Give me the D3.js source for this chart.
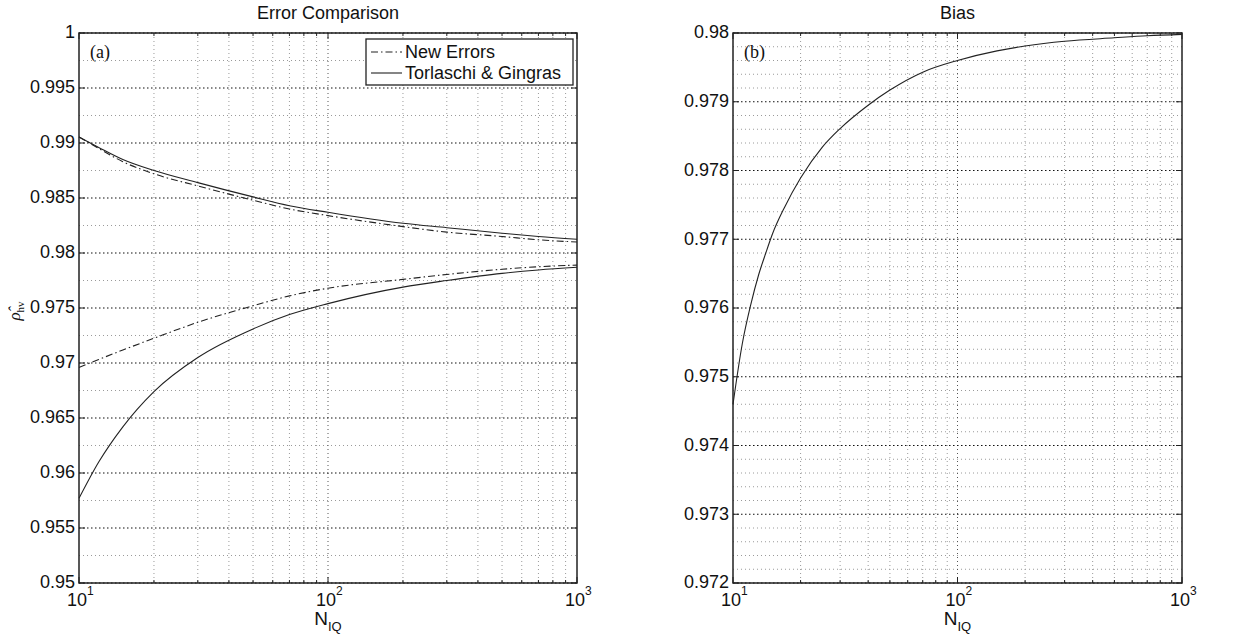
<html>
<head>
<script src="https://d3js.org/d3.v7.min.js"></script>
<style>
body { margin: 0; background: white; }
text { font-family: "Liberation Sans", Arial, sans-serif; fill: #111; }
.serif { font-family: "Liberation Serif", "DejaVu Serif", serif; }
</style>
</head>
<body>
<svg id="chart" width="1260" height="635"></svg>
<script>
// values
var nIQ = [10, 12, 15, 20, 30, 50, 70, 100, 200, 300, 500, 700, 1000];
var newUpper = [0.99055, 0.9895, 0.9883, 0.9872, 0.9861, 0.9848, 0.9840, 0.9834, 0.9824, 0.9819, 0.9815, 0.9812, 0.9810];
var newLower = [0.9696, 0.97032, 0.97118, 0.97225, 0.9737, 0.9752, 0.9761, 0.9768, 0.9776, 0.97805, 0.97852, 0.97875, 0.9789];
var tgUpper = [0.99055, 0.9896, 0.9885, 0.9875, 0.9864, 0.9851, 0.9843, 0.9837, 0.9827, 0.9823, 0.9818, 0.9815, 0.98125];
var tgLower = [0.9577, 0.9610, 0.9642, 0.9674, 0.9705, 0.9731, 0.9744, 0.9754, 0.9769, 0.9775, 0.97815, 0.97846, 0.9787];

var biasN = [10, 11, 12, 13, 14, 15, 17, 20, 25, 30, 40, 50, 70, 100, 150, 200, 300, 500, 700, 1000];
var biasRho = [0.9746, 0.97548, 0.97605, 0.97648, 0.9768, 0.97708, 0.97747, 0.97789, 0.97834, 0.97861, 0.97895, 0.97917, 0.97943, 0.9796, 0.97974, 0.97981, 0.97988, 0.97993, 0.97996, 0.97998];

var leftYTicks = [0.95, 0.955, 0.96, 0.965, 0.97, 0.975, 0.98, 0.985, 0.99, 0.995, 1];
var rightYTicks = [0.972, 0.973, 0.974, 0.975, 0.976, 0.977, 0.978, 0.979, 0.98];
var xTicks = [10, 100, 1000];
var xTickExp = ["1", "2", "3"];
var legendLabels = ["New Errors", "Torlaschi & Gingras"];

var svg = d3.select("#chart");
svg.append("rect").attr("width", 1260).attr("height", 635).attr("fill", "white");

var dashDot = "7,3,1.5,3";

function drawPanel(opts) {
    var w = opts.width, h = 550;
    var g = svg.append("g").attr("transform", "translate(" + opts.left + ",33)");
    var x = d3.scaleLog().domain([10, 1000]).range([0, w]);
    var y = d3.scaleLinear().domain(opts.yDomain).range([h, 0]);

    // minor grid
    var xMinor = [];
    [10, 100].forEach(function(d) {
        for (var k = 2; k <= 9; k++) xMinor.push(d * k);
    });
    g.selectAll(".xminor").data(xMinor).enter().append("line")
        .attr("x1", function(d) { return x(d); }).attr("x2", function(d) { return x(d); })
        .attr("y1", 0).attr("y2", h)
        .attr("stroke", "#9a9a9a").attr("stroke-dasharray", "1,3");
    g.selectAll(".yminor").data(opts.yMinor).enter().append("line")
        .attr("x1", 0).attr("x2", w)
        .attr("y1", function(d) { return y(d); }).attr("y2", function(d) { return y(d); })
        .attr("stroke", "#9a9a9a").attr("stroke-dasharray", "1,3");

    // major grid
    g.selectAll(".xmajor").data([100]).enter().append("line")
        .attr("x1", function(d) { return x(d); }).attr("x2", function(d) { return x(d); })
        .attr("y1", 0).attr("y2", h)
        .attr("stroke", "#555").attr("stroke-dasharray", "1,3");
    g.selectAll(".ymajor").data(opts.yTicks).enter().append("line")
        .attr("x1", 0).attr("x2", w)
        .attr("y1", function(d) { return y(d); }).attr("y2", function(d) { return y(d); })
        .attr("stroke", "#111").attr("stroke-width", 1.2).attr("stroke-dasharray", "1.5,2.5");

    // curves
    var line = d3.line()
        .x(function(d) { return x(d[0]); })
        .y(function(d) { return y(d[1]); })
        .curve(d3.curveMonotoneX);
    opts.series.forEach(function(s) {
        g.append("path")
            .attr("d", line(d3.zip(s.n, s.v)))
            .attr("fill", "none")
            .attr("stroke", "#222")
            .attr("stroke-width", 1.1)
            .attr("stroke-dasharray", s.dash ? dashDot : null);
    });

    // ticks (inward, all four sides)
    opts.yTicks.forEach(function(d) {
        g.append("line").attr("x1", 0).attr("x2", 6).attr("y1", y(d)).attr("y2", y(d)).attr("stroke", "#222");
        g.append("line").attr("x1", w - 6).attr("x2", w).attr("y1", y(d)).attr("y2", y(d)).attr("stroke", "#222");
    });
    xMinor.concat(xTicks).forEach(function(d) {
        var len = xTicks.indexOf(d) >= 0 ? 6 : 3;
        g.append("line").attr("x1", x(d)).attr("x2", x(d)).attr("y1", h).attr("y2", h - len).attr("stroke", "#222");
        g.append("line").attr("x1", x(d)).attr("x2", x(d)).attr("y1", 0).attr("y2", len).attr("stroke", "#222");
    });

    // frame
    g.append("rect").attr("width", w).attr("height", h)
        .attr("fill", "none").attr("stroke", "#222").attr("stroke-width", 1.5);

    // y tick labels
    g.selectAll(".ylab").data(opts.yTicks).enter().append("text")
        .attr("x", -4).attr("y", function(d) { return y(d); })
        .attr("dy", "0.3em")
        .attr("text-anchor", "end")
        .attr("font-size", 18)
        .text(function(d) { return String(+d.toFixed(3)); });

    // x tick labels 10^k
    xTicks.forEach(function(d, i) {
        g.append("text").attr("x", x(d) - 2).attr("y", h + 23)
            .attr("text-anchor", "middle").attr("font-size", 18).text("10");
        g.append("text").attr("x", x(d) + 8).attr("y", h + 12)
            .attr("font-size", 12).text(xTickExp[i]);
    });

    // x label N_IQ
    var xl = g.append("text").attr("x", w / 2).attr("y", h + 42)
        .attr("text-anchor", "middle").attr("font-size", 19);
    xl.append("tspan").text("N");
    xl.append("tspan").attr("dy", 6).attr("font-size", 13).text("IQ");

    // title
    svg.append("text").attr("x", opts.left + w / 2).attr("y", 19)
        .attr("text-anchor", "middle").attr("font-size", 18).text(opts.title);

    // panel tag
    g.append("text").attr("class", "serif").attr("x", 11).attr("y", 25)
        .attr("font-size", 18).text(opts.tag);

    return { g: g, x: x, y: y, w: w, h: h };
}

var left = drawPanel({
    left: 79, width: 498,
    yDomain: [0.95, 1],
    yTicks: leftYTicks,
    yMinor: d3.range(0.9525, 1, 0.005),
    title: "Error Comparison",
    tag: "(a)",
    series: [
        { n: nIQ, v: newUpper, dash: true },
        { n: nIQ, v: newLower, dash: true },
        { n: nIQ, v: tgUpper, dash: false },
        { n: nIQ, v: tgLower, dash: false }
    ]
});

var right = drawPanel({
    left: 733, width: 449,
    yDomain: [0.972, 0.98],
    yTicks: rightYTicks,
    yMinor: d3.range(0, 40).filter(function(i) { return i % 5 != 0; }).map(function(i) { return 0.972 + i * 0.0002; }),
    title: "Bias",
    tag: "(b)",
    series: [ { n: biasN, v: biasRho, dash: false } ]
});

// y label rho-hat_hv
var yl = svg.append("text").attr("class", "serif")
    .attr("transform", "translate(20,311) rotate(-90)")
    .attr("text-anchor", "middle").attr("font-size", 17);
yl.append("tspan").attr("font-style", "italic").text("\u03C1\u0302");
yl.append("tspan").attr("dy", 4).attr("font-size", 11).text("hv");

// legend
var lg = svg.append("g").attr("transform", "translate(366,39)");
lg.append("rect").attr("width", 207).attr("height", 46)
    .attr("fill", "white").attr("stroke", "#222").attr("stroke-width", 1.3);
legendLabels.forEach(function(label, i) {
    var cy = 13 + i * 21;
    lg.append("line").attr("x1", 5).attr("x2", 36).attr("y1", cy).attr("y2", cy)
        .attr("stroke", "#222").attr("stroke-width", 1.1)
        .attr("stroke-dasharray", i == 0 ? dashDot : null);
    lg.append("text").attr("x", 39).attr("y", cy).attr("dy", "0.35em")
        .attr("font-size", 18).text(label);
});
</script>
</body>
</html>
